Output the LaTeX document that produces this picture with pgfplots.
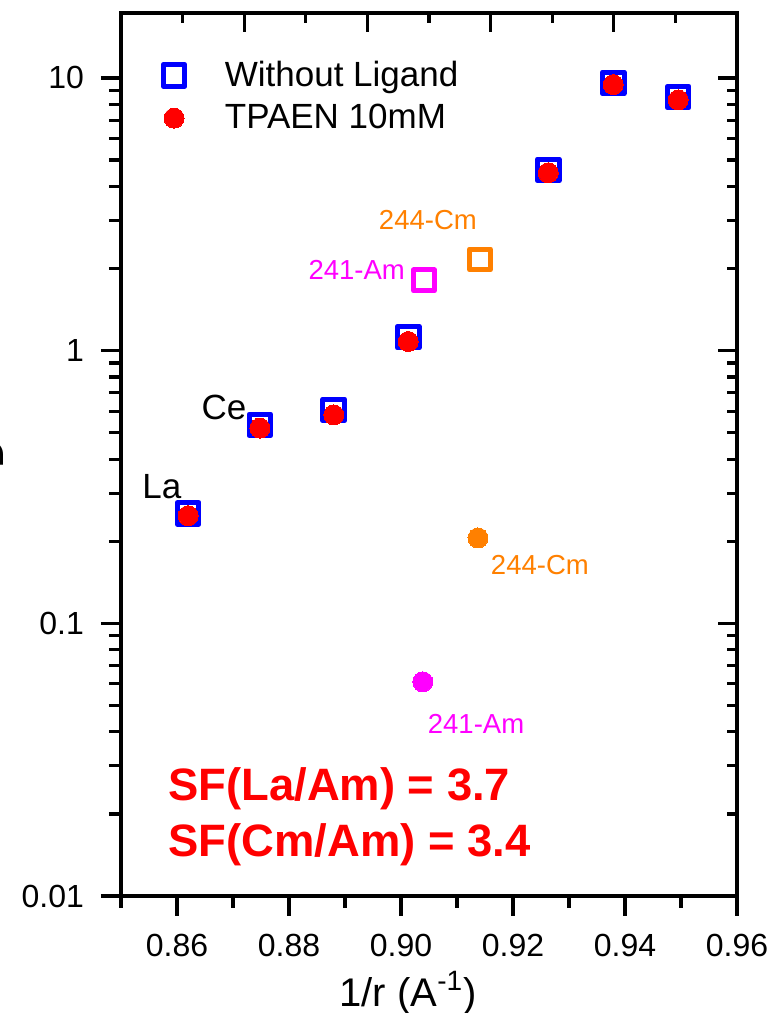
\documentclass[border=0pt]{standalone}
\usepackage{fontspec}
\setmainfont{Liberation Sans}
\usepackage{pgfplots}
\pgfplotsset{compat=1.18}
\definecolor{cmorange}{RGB}{255,128,0}
\definecolor{ammag}{RGB}{255,0,255}
\begin{document}
\begin{tikzpicture}
\useasboundingbox (-60.5pt,-58.5pt) rectangle (326pt,448pt);
% top / right inward ticks
\begin{axis}[
  scale only axis, width=308pt, height=441.5pt,
  xmin=0.85, xmax=0.96, ymode=log, ymin=0.01, ymax=17.3,
  axis line style={draw=none},
  tick style={line width=1.6pt, black},
  major tick length=9.5pt, minor tick length=5pt,
  tick align=inside,
  xtick pos=right, ytick pos=right,
  xtick={0.85,0.872,0.894,0.916,0.938,0.96},
  minor xtick={0.861,0.883,0.905,0.927,0.949},
  xticklabels={}, yticklabels={},
]
\addplot[draw=none, forget plot] coordinates {(0.9,1)};
\end{axis}
\begin{axis}[
  scale only axis, width=308pt, height=441.5pt,
  xmin=0.85, xmax=0.96, ymode=log, ymin=0.01, ymax=17.3,
  axis line style={line width=1.6pt, line cap=rect},
  tick style={line width=1.6pt, black},
  major tick length=10pt, minor tick length=6pt,
  tick align=outside,
  xtick pos=left, ytick pos=left,
  xtick={0.86,0.88,0.90,0.92,0.94,0.96},
  minor xtick={0.85,0.87,0.89,0.91,0.93,0.95},
  log ticks with fixed point,
  /pgf/number format/assume math mode=true,
  xticklabel style={font=\fontsize{16}{19}\selectfont, yshift=-5.5pt,
    /pgf/number format/fixed, /pgf/number format/fixed zerofill, /pgf/number format/precision=2},
  yticklabel style={font=\fontsize{16}{19}\selectfont, xshift=-5pt,
    /pgf/number format/fixed, /pgf/number format/precision=2},
  xlabel={1/r (A\textsuperscript{-1})},
  xlabel style={font=\fontsize{20}{24}\selectfont, at={(rel axis cs:0.466,0)}, anchor=base, yshift=-55pt, inner sep=0pt},
  ylabel={D},
  ylabel style={overlay, font=\fontsize{20}{24}\selectfont, at={(rel axis cs:-0.19,0.5)}, anchor=south, inner sep=0pt},
  legend style={draw=none, fill=none, inner sep=0pt, at={(rel axis cs:0.068,0.946)}, anchor=north west,
    font=\fontsize{17.5}{20}\selectfont, row sep=7.5pt, column sep=20pt, nodes={inner sep=0pt}},
  legend cell align=left,
  clip=false,
]
\addplot[only marks, mark=square*, mark size=5.4pt,
  mark options={draw=blue, fill=white, line width=2.5pt, line join=round}]
  coordinates {(0.862,0.253) (0.8748,0.534) (0.8880,0.606) (0.9013,1.12) (0.9263,4.60) (0.9379,9.59) (0.9495,8.51)};
\addlegendentry{Without Ligand}
\addplot[only marks, mark=*, mark size=5pt,
  mark options={draw=red, fill=red, line width=0pt}]
  coordinates {(0.862,0.248) (0.8748,0.520) (0.8880,0.581) (0.9013,1.08) (0.9263,4.49) (0.9379,9.45) (0.9495,8.30)};
\addlegendentry{TPAEN 10mM}
\addplot[forget plot, only marks, mark=square*, mark size=5.2pt,
  mark options={draw=cmorange, fill=white, line width=2.5pt, line join=round}]
  coordinates {(0.9141,2.16)};
\addplot[forget plot, only marks, mark=square*, mark size=5.2pt,
  mark options={draw=ammag, fill=white, line width=2.5pt, line join=round}]
  coordinates {(0.9041,1.81)};
\addplot[forget plot, only marks, mark=*, mark size=5pt,
  mark options={draw=cmorange, fill=cmorange, line width=0pt}]
  coordinates {(0.91375,0.2056)};
\addplot[forget plot, only marks, mark=*, mark size=5pt,
  mark options={draw=ammag, fill=ammag, line width=0pt}]
  coordinates {(0.9039,0.0610)};
\node[inner sep=0pt, font=\fontsize{17.5}{20}\selectfont] at (axis cs:0.8573,0.317) {La};
\node[inner sep=0pt, font=\fontsize{17.5}{20}\selectfont] at (axis cs:0.8684,0.618) {Ce};
\node[inner sep=0pt, text=cmorange, font=\fontsize{13.75}{16}\selectfont] at (axis cs:0.9048,3.02) {244-Cm};
\node[inner sep=0pt, text=ammag, font=\fontsize{13.75}{16}\selectfont] at (axis cs:0.8921,1.98) {241-Am};
\node[inner sep=0pt, text=cmorange, font=\fontsize{13.75}{16}\selectfont] at (axis cs:0.9248,0.164) {244-Cm};
\node[inner sep=0pt, text=ammag, font=\fontsize{13.75}{16}\selectfont] at (axis cs:0.9134,0.0429) {241-Am};
\node[anchor=base west, inner sep=0pt, text=red, font=\bfseries\fontsize{22.7}{27}\selectfont] at (rel axis cs:0.0763,0.1087) {SF(La/Am) = 3.7};
\node[anchor=base west, inner sep=0pt, text=red, font=\bfseries\fontsize{22.7}{27}\selectfont] at (rel axis cs:0.0763,0.0442) {SF(Cm/Am) = 3.4};
\end{axis}
\end{tikzpicture}
\end{document}
